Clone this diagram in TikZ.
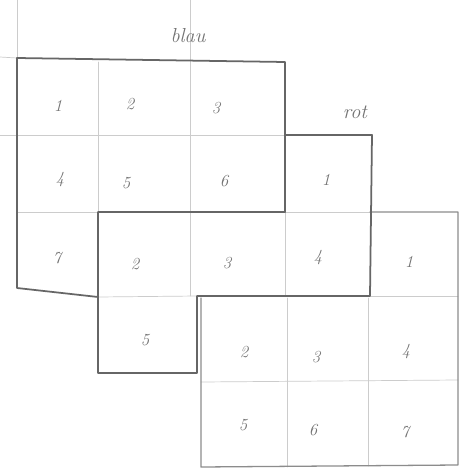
\documentclass[tikz,border=0pt]{standalone}
\usetikzlibrary{calc}
\colorlet{pencil}{black!60}
\colorlet{faint}{black!20}

\begin{document}
\begin{tikzpicture}[x=0.03cm, y=-0.03cm, line join=round, line cap=round,
    outline/.style={pencil, line width=1.5pt},
    lightline/.style={black!45, line width=1.1pt},
    guide/.style={faint, line width=0.6pt},
    num/.style={text=black!55, font=\Large\itshape},
    tag/.style={text=black!55, font=\LARGE\itshape}]
  \fill[white] (0,0) rectangle (462,473);
  \useasboundingbox (0,0) rectangle (462,473);

  % corners of the blue part
  \coordinate (B1) at (17,58);
  \coordinate (B2) at (285,62);
  \coordinate (B3) at (285,212);
  \coordinate (B4) at (98,212);
  \coordinate (B5) at (98,297);
  \coordinate (B6) at (17,288);
  % corners of the red part
  \coordinate (R1) at (285,135);
  \coordinate (R2) at (372,135);
  \coordinate (R3) at (370,296);
  \coordinate (R4) at (197,296);
  \coordinate (R5) at (197,373);
  \coordinate (R6) at (98,373);
  % corners of the third part
  \coordinate (G1) at (201,298);
  \coordinate (G2) at (201,467);
  \coordinate (G3) at (458,465);
  \coordinate (G4) at (458,212);
  \coordinate (G5) at (370,212);

  % faint lines of the paper and the cells
  \draw[guide] (0,57) -- (B1);
  \draw[guide] (17,0) -- (B1);
  \draw[guide] (190,0) -- (190,62);
  \draw[guide] (0,135) -- (R1);
  \draw[guide] (98,62) -- (B4);
  \draw[guide] (190,62) -- (190,296);
  \draw[guide] (17,212) -- (B4);
  \draw[guide] (B3) -- (G5);
  \draw[guide] (B3) -- (285,296);
  \draw[guide] (B5) -- (R4);
  \draw[guide] (R3) -- (458,296);
  \draw[guide] (287,298) -- (287,467);
  \draw[guide] (368,298) -- (368,466);
  \draw[guide] (201,382) -- (458,380);

  \draw[lightline] (G1) -- (G2) -- (G3) -- (G4) -- (G5);
  \draw[outline] (B1) -- (B2) -- (B3) -- (B4) -- (B5) -- (B6) -- cycle;
  \draw[outline] (B3) -- (R1) -- (R2) -- (R3) -- (R4) -- (R5) -- (R6) -- (B5);

  \node[tag] (blau) at (188,36) {blau};
  \node[tag] (rot)  at (355,112) {rot};

  \node[num] (b1) at (58,106) {1};
  \node[num] (b2) at (130,104) {2};
  \node[num] (b3) at (216,108) {3};
  \node[num] (b4) at (60,180) {4};
  \node[num] (b5) at (126,183) {5};
  \node[num] (b6) at (224,181) {6};
  \node[num] (b7) at (57,258) {7};

  \node[num] (r1) at (326,180) {1};
  \node[num] (r2) at (135,264) {2};
  \node[num] (r3) at (227,263) {3};
  \node[num] (r4) at (318,258) {4};
  \node[num] (r5) at (145,340) {5};

  \node[num] (g1) at (409,262) {1};
  \node[num] (g2) at (244,352) {2};
  \node[num] (g3) at (316,357) {3};
  \node[num] (g4) at (406,352) {4};
  \node[num] (g5) at (243,425) {5};
  \node[num] (g6) at (313,430) {6};
  \node[num] (g7) at (405,432) {7};
\end{tikzpicture}
\end{document}
